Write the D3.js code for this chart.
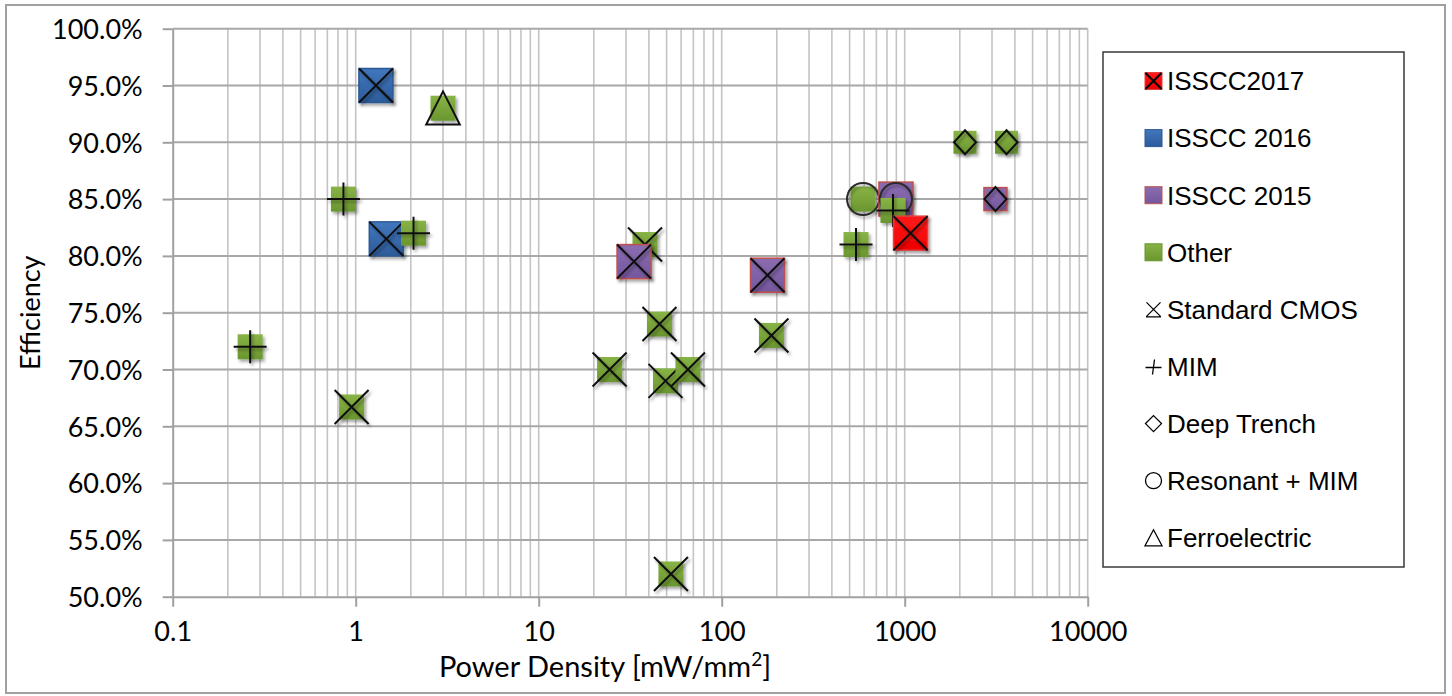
<!DOCTYPE html>
<html><head><meta charset="utf-8">
<script src="https://cdn.jsdelivr.net/npm/d3@7"></script>
<style>
html,body{margin:0;padding:0;background:#fff;}
svg{display:block;}
</style></head>
<body>
<svg id="chart" width="1452" height="696"></svg>
<script>
// ---- data ----
const powerDensity = [0.265, 0.857, 0.95, 1.29, 1.47, 2.07, 3.0, 24.4, 38.1, 33.2, 45.7, 49.3, 65.4, 52.8, 178, 187, 542, 592, 896, 863, 1076, 2136, 3600, 3133];
const efficiency   = [72, 85, 66.7, 95, 81.5, 82, 93, 70, 81, 79.5, 74, 69, 70, 52, 78.3, 73, 81, 85, 85, 84, 82, 90, 90, 85];
const group        = ["Other","Other","Other","ISSCC 2016","ISSCC 2016","Other","Other","Other","Other","ISSCC 2015","Other","Other","Other","Other","ISSCC 2015","Other","Other","Other","ISSCC 2015","Other","ISSCC2017","Other","Other","ISSCC 2015"];
const capType      = ["MIM","MIM","Standard CMOS","Standard CMOS","Standard CMOS","MIM","Ferroelectric","Standard CMOS","Standard CMOS","Standard CMOS","Standard CMOS","Standard CMOS","Standard CMOS","Standard CMOS","Standard CMOS","Standard CMOS","MIM","Resonant + MIM","Resonant + MIM","MIM","Standard CMOS","Deep Trench","Deep Trench","Deep Trench"];
const groupNames   = ["ISSCC2017","ISSCC 2016","ISSCC 2015","Other"];
const typeNames    = ["Standard CMOS","MIM","Deep Trench","Resonant + MIM","Ferroelectric"];
const xTickValues  = [0.1, 1, 10, 100, 1000, 10000];
const xTickLabels  = ["0.1","1","10","100","1000","10000"];
const yTickValues  = [50,55,60,65,70,75,80,85,90,95,100];
const yTickLabels  = ["50.0%","55.0%","60.0%","65.0%","70.0%","75.0%","80.0%","85.0%","90.0%","95.0%","100.0%"];

// ---- styles ----
const groupStyle = {
  "ISSCC2017": {top:"#ff1a1a", bot:"#f00000", stroke:"#e04040", size:34},
  "ISSCC 2016":{top:"#4177bd", bot:"#2d5b99", stroke:"#2c5a94", size:34},
  "ISSCC 2015":{top:"#8b6cb0", bot:"#74579e", stroke:"#c0504d", size:34},
  "Other":     {top:"#88b346", bot:"#6a962f", stroke:"none", size:25}
};
const smallSize = 23;
const axisFont = "Lato, 'Open Sans', sans-serif";
const legendFont = "'Liberation Sans', Arial, sans-serif";

const svg = d3.select("#chart");
const defs = svg.append("defs");
Object.entries(groupStyle).forEach(([k,s],i)=>{
  const g = defs.append("linearGradient").attr("id","grad"+i).attr("x1",0).attr("y1",0).attr("x2",0).attr("y2",1);
  g.append("stop").attr("offset","0%").attr("stop-color",s.top);
  g.append("stop").attr("offset","100%").attr("stop-color",s.bot);
  s.grad = "url(#grad"+i+")";
});
const f = defs.append("filter").attr("id","shadow").attr("x","-30%").attr("y","-30%").attr("width","170%").attr("height","170%");
f.append("feDropShadow").attr("dx",2).attr("dy",2.5).attr("stdDeviation",1.6).attr("flood-color","#000").attr("flood-opacity",0.35);

// outer border
svg.append("rect").attr("x",6).attr("y",5).attr("width",1439).attr("height",688)
  .attr("fill","#fff").attr("stroke","#a0a0a0").attr("stroke-width",2);

const x = d3.scaleLog().domain([0.1,10000]).range([172.7,1087.7]);
const y = d3.scaleLinear().domain([50,100]).range([596.7,28.7]);

// gridlines
const grid = svg.append("g");
const vTicks = x.ticks().filter(v=>v>0.1);
grid.selectAll("line.v").data(vTicks).join("line")
  .attr("x1",d=>x(d)).attr("x2",d=>x(d)).attr("y1",y(100)).attr("y2",y(50))
  .attr("stroke","#c4c4c4").attr("stroke-width",1.6);
grid.selectAll("line.h").data(yTickValues.filter(v=>v>50)).join("line")
  .attr("x1",x(0.1)).attr("x2",x(10000)).attr("y1",d=>y(d)).attr("y2",d=>y(d))
  .attr("stroke","#a8a8a8").attr("stroke-width",2);

// axes
const yAxis = svg.append("g").attr("transform",`translate(${x(0.1)},0)`)
  .call(d3.axisLeft(y).tickValues(yTickValues).tickSize(10).tickSizeOuter(0).tickFormat((d,i)=>yTickLabels[i]));
const xAxis = svg.append("g").attr("transform",`translate(0,${y(50)})`)
  .call(d3.axisBottom(x).tickValues(xTickValues).tickSize(10).tickSizeOuter(0).tickFormat((d,i)=>xTickLabels[i]));
[yAxis,xAxis].forEach(a=>{
  a.select(".domain").attr("stroke","#a0a0a0").attr("stroke-width",2);
  a.selectAll(".tick line").attr("stroke","#a0a0a0").attr("stroke-width",2);
  a.selectAll(".tick text").attr("fill","#000").style("font-family",axisFont).style("font-size","27px");
});
yAxis.selectAll(".tick text").attr("x",-30).attr("dy","0.36em");
xAxis.selectAll(".tick text").attr("y",25).attr("dy","0.71em");

// axis titles
const xt = svg.append("text").attr("x",605).attr("y",677).attr("text-anchor","middle")
  .style("font-family",axisFont).style("font-size","29px").attr("fill","#000");
xt.append("tspan").text("Power Density [mW/mm");
xt.append("tspan").attr("font-size","19px").attr("dy",-11).text("2");
xt.append("tspan").attr("dy",11).text("]");
svg.append("text").attr("transform",`translate(40,${(y(50)+y(100))/2}) rotate(-90)`)
  .attr("text-anchor","middle").style("font-family",axisFont).style("font-size","27px").attr("fill","#000")
  .text("Efficiency");

// symbol paths
function symPath(t, s){
  switch(t){
    case "Standard CMOS": return `M${-s},${-s}L${s},${s}M${s},${-s}L${-s},${s}`;
    case "MIM": return `M${-s},0H${s}M0,${-s}V${s}`;
    case "Deep Trench": return `M0,${-s}L${s*0.92},0L0,${s}L${-s*0.92},0Z`;
    case "Ferroelectric": return `M0,${-s}L${s},${s*0.97}L${-s},${s*0.97}Z`;
  }
  return "";
}
const symHalf = {"Standard CMOS":17,"MIM":16.5,"Deep Trench":12,"Ferroelectric":16.8};

// points
const pts = powerDensity.map((p,i)=>({p, e:efficiency[i], g:group[i], t:capType[i]}));
const pg = svg.append("g").selectAll("g").data(pts).join("g")
  .attr("transform",d=>`translate(${x(d.p)},${y(d.e)})`);
pg.each(function(d){
  const g = d3.select(this);
  const st = groupStyle[d.g];
  const sz = d.t==="Deep Trench" ? smallSize : st.size;
  g.append("rect").attr("x",-sz/2).attr("y",-sz/2).attr("width",sz).attr("height",sz)
    .attr("fill",st.grad).attr("stroke",st.stroke).attr("stroke-width",st.stroke==="none"?0:1.5)
    .attr("filter","url(#shadow)");
  if(d.t==="Resonant + MIM"){
    g.append("circle").attr("r",16).attr("fill","none").attr("stroke","#2a2a2a").attr("stroke-width",2)
      .attr("filter","url(#shadow)");
  } else {
    g.append("path").attr("d",symPath(d.t,symHalf[d.t])).attr("fill","none")
      .attr("stroke","#111").attr("stroke-width",2).attr("stroke-linejoin","miter")
      .attr("filter", d.t==="Ferroelectric" ? null : "url(#shadow)");
  }
});

// legend
const lg = svg.append("g");
lg.append("rect").attr("x",1103).attr("y",52).attr("width",301).attr("height",515)
  .attr("fill","#fff").attr("stroke","#3a3a3a").attr("stroke-width",1.5);
const rowY = i => 81 + i*57.1;
groupNames.forEach((n,i)=>{
  const st = groupStyle[n];
  const cy = rowY(i);
  lg.append("rect").attr("x",1145).attr("y",cy-8.5).attr("width",17).attr("height",17)
    .attr("fill",st.grad).attr("stroke",st.stroke==="none"?"#6a962f":st.stroke).attr("stroke-width",1);
  if(n==="ISSCC2017"){
    lg.append("path").attr("d",`M1145.5,${cy-8}L1161.5,${cy+8}M1161.5,${cy-8}L1145.5,${cy+8}`)
      .attr("stroke","#000").attr("stroke-width",2);
  }
  lg.append("text").attr("x",1167).attr("y",cy).attr("dy","0.36em")
    .style("font-family",legendFont).style("font-size","26px").attr("fill","#000").text(n);
});
typeNames.forEach((n,j)=>{
  const cy = rowY(j+4);
  const cx = 1153.5;
  if(n==="Standard CMOS"){
    lg.append("path").attr("d",`M${cx-7},${cy-7}L${cx+7},${cy+7}M${cx+7},${cy-7}L${cx-7},${cy+7}M${cx-7.5},${cy+7.5}H${cx+7.5}`)
      .attr("fill","none").attr("stroke","#000").attr("stroke-width",1.3);
  } else if(n==="MIM"){
    lg.append("path").attr("d",`M${cx-8},${cy+1}H${cx+8}M${cx+1},${cy-7}L${cx-1},${cy+8}`)
      .attr("fill","none").attr("stroke","#000").attr("stroke-width",1.3);
  } else if(n==="Deep Trench"){
    lg.append("path").attr("d",`M${cx},${cy-8}L${cx+8},${cy}L${cx},${cy+8}L${cx-8},${cy}Z`)
      .attr("fill","none").attr("stroke","#000").attr("stroke-width",1.3);
  } else if(n==="Resonant + MIM"){
    lg.append("circle").attr("cx",cx).attr("cy",cy).attr("r",8)
      .attr("fill","none").attr("stroke","#000").attr("stroke-width",1.3);
  } else {
    lg.append("path").attr("d",`M${cx},${cy-8}L${cx+8.5},${cy+8}L${cx-8.5},${cy+8}Z`)
      .attr("fill","none").attr("stroke","#000").attr("stroke-width",1.3);
  }
  lg.append("text").attr("x",1167).attr("y",cy).attr("dy","0.36em")
    .style("font-family",legendFont).style("font-size","26px").attr("fill","#000").text(n);
});
</script>
</body></html>
